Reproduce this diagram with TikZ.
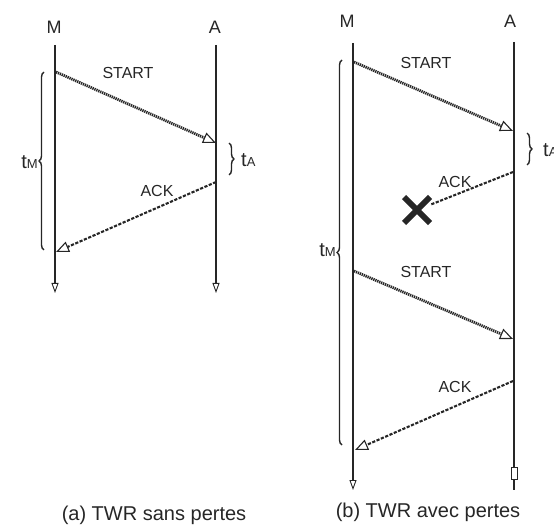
\documentclass[tikz,border=0pt]{standalone}
\usepackage{fontspec}
\setmainfont{Liberation Sans}
\usetikzlibrary{arrows.meta,decorations.pathreplacing,shapes.misc}
\definecolor{ink}{HTML}{262626}
\begin{document}
\begin{tikzpicture}[x=1pt,y=-1pt,
  lifeline/.style={draw=ink, line width=1.3pt},
  thickline/.style={draw=ink, line width=2.8pt},
  endtip/.style={-{Triangle[open,length=10pt,width=7pt,line width=0.9pt]}},
  hatchmsg/.style={draw=ink, line width=2.8pt, dash pattern=on 1.3pt off 0.8pt,
    -{Triangle[open,length=13pt,width=11pt,line width=1.1pt]}},
  ackmsg/.style={draw=ink, line width=2.1pt, dash pattern=on 3.2pt off 1.5pt,
    -{Triangle[open,length=13pt,width=11pt,line width=1.1pt]}},
  ackplain/.style={draw=ink, line width=2.1pt, dash pattern=on 3.2pt off 1.5pt},
  head/.style={text=ink, inner sep=0, font=\fontsize{18}{18}\selectfont},
  lbl/.style={text=ink, inner sep=0, font=\fontsize{16}{16}\selectfont},
  captext/.style={text=ink, inner sep=0, font=\fontsize{20}{20}\selectfont},
  tlbl/.style={text=ink, inner sep=0, font=\fontsize{20}{20}\selectfont},
  bracel/.style={draw=ink, line width=1.4pt, decorate, decoration={brace, amplitude=5pt}},
]
\useasboundingbox (0,0) rectangle (554,529);

% ---------- (a) ----------
\node[head] (aM) at (54,27) {M};
\node[head] (aA) at (215,27) {A};
\coordinate (aMt) at (55,45);
\coordinate (aMb) at (55,293);
\coordinate (aAt) at (216,45);
\coordinate (aAb) at (216,293);
\draw[lifeline, endtip] (aMt) -- (aMb);
\draw[lifeline, endtip] (aAt) -- (aAb);

\coordinate (aS1) at (56,72);
\coordinate (aS2) at (216,143);
\coordinate (aK1) at (216,182);
\coordinate (aK2) at (56,252);
\draw[hatchmsg] (aS1) -- (aS2);
\draw[ackmsg] (aK1) -- (aK2);
\node[lbl] (aStart) at (128,73) {START};
\node[lbl] (aAck) at (157,191) {ACK};

\coordinate (aB1) at (44,250);
\coordinate (aB2) at (44,72);
\draw[bracel] (aB1) -- (aB2);
\node[tlbl, anchor=east] (atM) at (38,162) {t{\fontsize{13}{13}\selectfont M}};
\coordinate (aC1) at (229,143);
\coordinate (aC2) at (229,175);
\draw[bracel] (aC1) -- (aC2);
\node[tlbl, anchor=west] (atA) at (241,160) {t{\fontsize{13}{13}\selectfont A}};

\node[captext] (capa) at (154,515) {(a) TWR sans pertes};

% ---------- (b) ----------
\node[head] (bM) at (347,21) {M};
\node[head] (bA) at (510,21) {A};
\coordinate (bMt) at (353,43);
\coordinate (bMb) at (353,490);
\coordinate (bAt) at (514,42);
\coordinate (bAb) at (514,490);
\draw[lifeline, endtip] (bMt) -- (bMb);
\draw[thickline] (bAt) -- (bAb);
\node[draw=ink, fill=white, line width=0.9pt, minimum width=6pt, minimum height=12pt, inner sep=0] (bAend) at (514,473) {};

\coordinate (bS1) at (354,62);
\coordinate (bS2) at (513,131);
\draw[hatchmsg] (bS1) -- (bS2);
\node[lbl] (bStart1) at (426,63) {START};

\node[draw=ink, cross out, line width=6pt, minimum size=20pt, inner sep=0] (bX) at (417,210) {};
\coordinate (bK1) at (513,172);
\draw[ackplain] (bK1) -- (bX);
\node[lbl] (bAck1) at (455,182) {ACK};

\coordinate (bS3) at (354,271);
\coordinate (bS4) at (513,339);
\draw[hatchmsg] (bS3) -- (bS4);
\node[lbl] (bStart2) at (426,272) {START};

\coordinate (bK3) at (513,381);
\coordinate (bK4) at (355,450);
\draw[ackmsg] (bK3) -- (bK4);
\node[lbl] (bAck2) at (455,387) {ACK};

\coordinate (bB1) at (342,445);
\coordinate (bB2) at (342,60);
\draw[bracel] (bB1) -- (bB2);
\node[tlbl, anchor=east] (btM) at (336,250) {t{\fontsize{13}{13}\selectfont M}};
\coordinate (bC1) at (527,133);
\coordinate (bC2) at (527,165);
\draw[bracel] (bC1) -- (bC2);
\node[tlbl, anchor=west] (btA) at (543,150) {t{\fontsize{13}{13}\selectfont A}};

\node[captext] (capb) at (428,512) {(b) TWR avec pertes};
\end{tikzpicture}
\end{document}
